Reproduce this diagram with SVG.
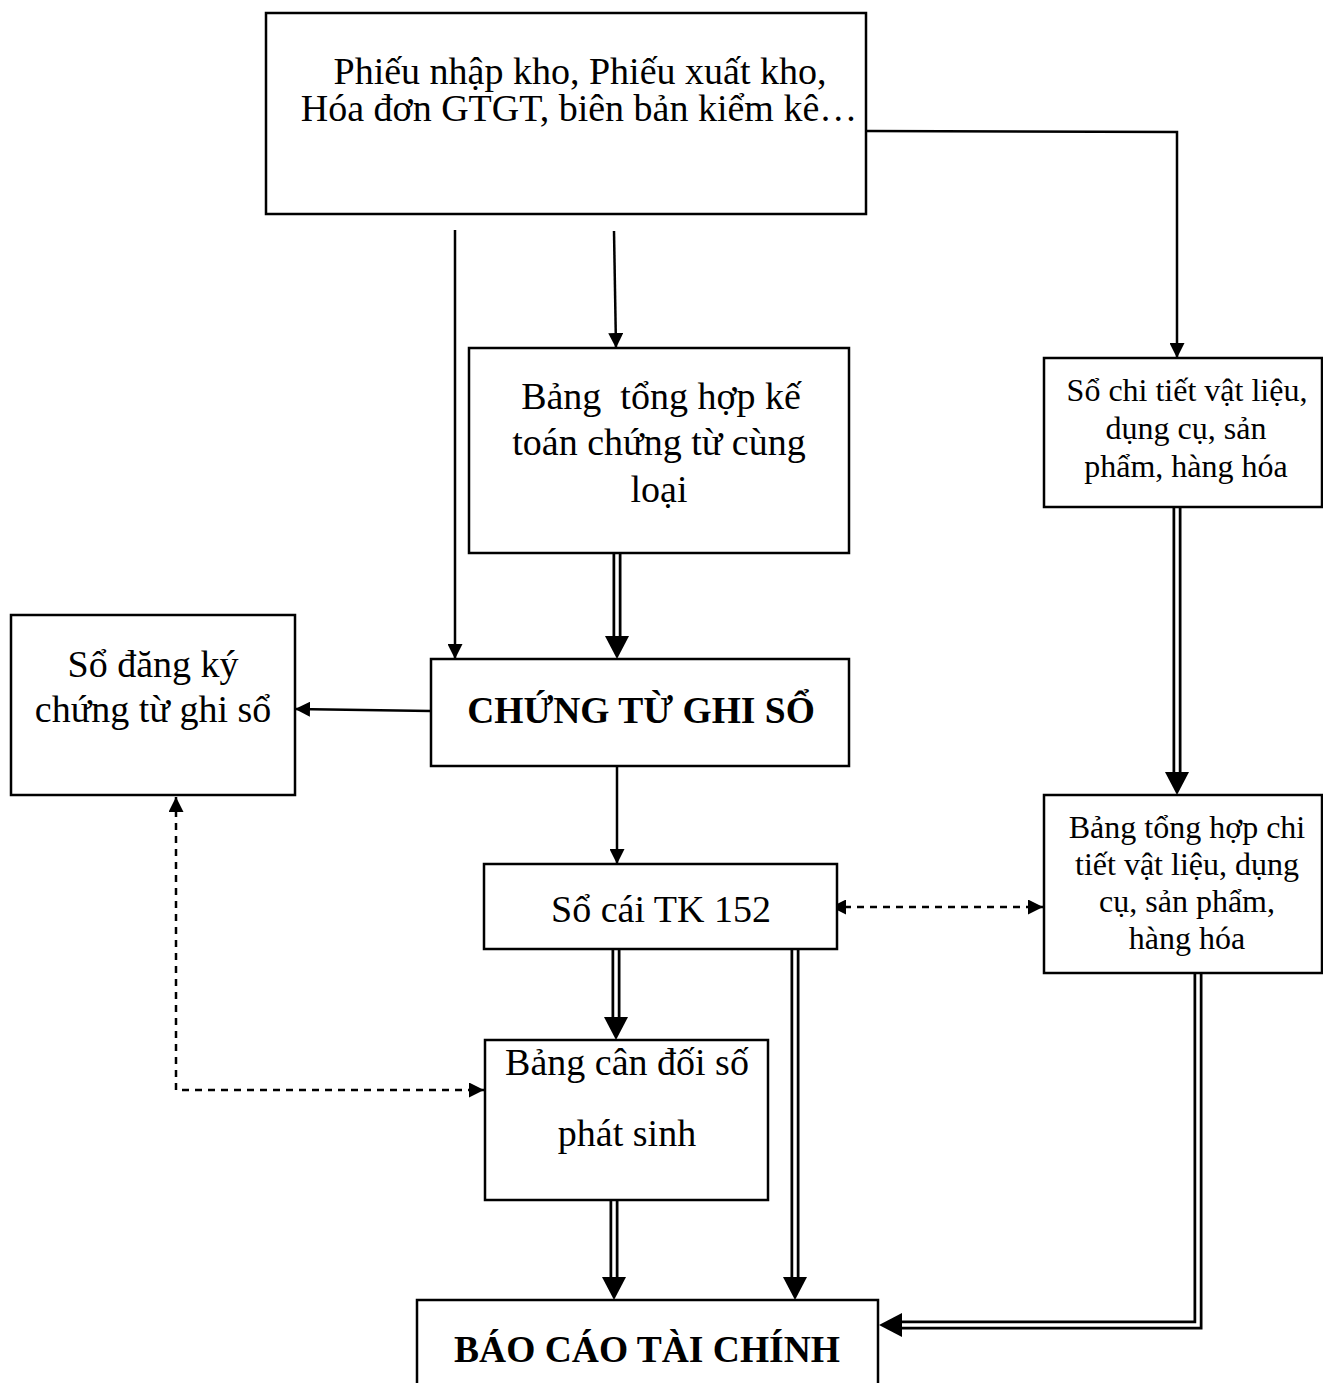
<svg xmlns="http://www.w3.org/2000/svg" width="1323" height="1383" viewBox="0 0 1323 1383">
  <style>
    .box { fill: #fff; stroke: #000; stroke-width: 2.5; }
    .t { font-family: "Liberation Serif", "Times New Roman", serif; fill: #000; text-anchor: middle; }
    .big { font-size: 38px; }
    .mid { font-size: 32px; }
    .bold { font-size: 37.5px; font-weight: bold; }
    .ln { fill: none; stroke: #000; stroke-width: 2.5; }
    .dash { fill: none; stroke: #000; stroke-width: 2.5; stroke-dasharray: 7 6; }
    .dblo { fill: none; stroke: #000; stroke-width: 9; }
    .dbli { fill: none; stroke: #fff; stroke-width: 3.5; }
  </style>
  <defs>
    <marker id="arr" viewBox="0 0 10 10" refX="10" refY="5" markerWidth="6" markerHeight="6" orient="auto" markerUnits="strokeWidth">
      <path d="M0,0 L10,5 L0,10 z" fill="#000"/>
    </marker>
    <marker id="arrS" viewBox="0 0 10 10" refX="0" refY="5" markerWidth="6" markerHeight="6" orient="auto" markerUnits="strokeWidth">
      <path d="M10,0 L0,5 L10,10 z" fill="#000"/>
    </marker>
  </defs>
  <rect width="1323" height="1383" fill="#fff"/>

  <g id="connectors">
    <!-- single arrows -->
    <path class="ln" d="M455,230 L455,659" marker-end="url(#arr)"/>
    <path class="ln" d="M614,231 L616,348" marker-end="url(#arr)"/>
    <path class="ln" d="M866,131 L1177,132 L1177,358" marker-end="url(#arr)"/>
    <path class="ln" d="M431,711 L295,709" marker-end="url(#arr)"/>
    <path class="ln" d="M617,766 L617,864" marker-end="url(#arr)"/>

    <!-- dashed arrows -->
    <path class="dash" d="M831,907 L1043,907" marker-start="url(#arrS)" marker-end="url(#arr)"/>
    <path class="dash" d="M176,797 L176,1090 L484,1090" marker-start="url(#arrS)" marker-end="url(#arr)"/>

    <!-- double-line arrows -->
    <path class="dblo" d="M617,553 L617,638"/>
    <path class="dbli" d="M617,553 L617,640"/>
    <polygon points="605,636 629,636 617,659" fill="#000"/>

    <path class="dblo" d="M1177,507 L1177,774"/>
    <path class="dbli" d="M1177,507 L1177,776"/>
    <polygon points="1165,772 1189,772 1177,795" fill="#000"/>

    <path class="dblo" d="M616,949 L616,1019"/>
    <path class="dbli" d="M616,949 L616,1021"/>
    <polygon points="604,1017 628,1017 616,1040" fill="#000"/>

    <path class="dblo" d="M795,949 L795,1279"/>
    <path class="dbli" d="M795,949 L795,1281"/>
    <polygon points="783,1277 807,1277 795,1300" fill="#000"/>

    <path class="dblo" d="M614,1200 L614,1279"/>
    <path class="dbli" d="M614,1200 L614,1281"/>
    <polygon points="602,1277 626,1277 614,1300" fill="#000"/>

    <path class="dblo" d="M1198,973 L1198,1325 L900,1325" stroke-linejoin="miter"/>
    <path class="dbli" d="M1198,973 L1198,1325 L898,1325" stroke-linejoin="miter"/>
    <polygon points="902,1313 902,1337 879,1325" fill="#000"/>
  </g>

  <g id="chung-tu-goc">
    <rect class="box" x="266" y="13" width="600" height="201"/>
    <text class="t big" x="580" y="84">Phiếu nhập kho, Phiếu xuất kho,</text>
    <text class="t big" x="579" y="121">Hóa đơn GTGT, biên bản kiểm kê…</text>
  </g>

  <g id="bang-tong-hop-ke-toan">
    <rect class="box" x="469" y="348" width="380" height="205"/>
    <text class="t big" x="661" y="409" xml:space="preserve">Bảng  tổng hợp kế</text>
    <text class="t big" x="659" y="455">toán chứng từ cùng</text>
    <text class="t big" x="659" y="502">loại</text>
  </g>

  <g id="so-chi-tiet">
    <rect class="box" x="1044" y="358" width="278" height="149"/>
    <text class="t mid" x="1187" y="401">Sổ chi tiết vật liệu,</text>
    <text class="t mid" x="1186" y="439">dụng cụ, sản</text>
    <text class="t mid" x="1186" y="477">phẩm, hàng hóa</text>
  </g>

  <g id="so-dang-ky">
    <rect class="box" x="11" y="615" width="284" height="180"/>
    <text class="t big" x="153" y="677">Sổ đăng ký</text>
    <text class="t big" x="153" y="722">chứng từ ghi sổ</text>
  </g>

  <g id="chung-tu-ghi-so">
    <rect class="box" x="431" y="659" width="418" height="107"/>
    <text class="t bold" x="641" y="723">CHỨNG TỪ GHI SỔ</text>
  </g>

  <g id="bang-tong-hop-chi-tiet">
    <rect class="box" x="1044" y="795" width="278" height="178"/>
    <text class="t mid" x="1187" y="838">Bảng tổng hợp chi</text>
    <text class="t mid" x="1187" y="875">tiết vật liệu, dụng</text>
    <text class="t mid" x="1187" y="912">cụ, sản phẩm,</text>
    <text class="t mid" x="1187" y="949">hàng hóa</text>
  </g>

  <g id="so-cai">
    <rect class="box" x="484" y="864" width="353" height="85"/>
    <text class="t big" x="661" y="922">Sổ cái TK 152</text>
  </g>

  <g id="bang-can-doi">
    <rect class="box" x="485" y="1040" width="283" height="160"/>
    <text class="t big" x="627" y="1075">Bảng cân đối số</text>
    <text class="t big" x="627" y="1146">phát sinh</text>
  </g>

  <g id="bao-cao-tai-chinh">
    <rect class="box" x="417" y="1300" width="461" height="95"/>
    <text class="t bold" x="647" y="1362">BÁO CÁO TÀI CHÍNH</text>
  </g>
</svg>
